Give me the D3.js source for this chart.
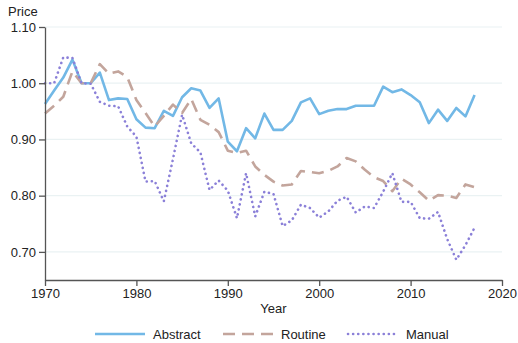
<!DOCTYPE html>
<html>
<head>
<meta charset="utf-8">
<script src="https://cdn.jsdelivr.net/npm/d3@7"></script>
<style>
  body { margin: 0; background: #fff; }
  svg text { font-family: "Liberation Sans", Arial, sans-serif; fill: #222; }
</style>
</head>
<body>
<div id="okvir"></div>
<script>
const godine = d3.range(1970, 2018)

const abstract = [0.963, 0.987, 1.010, 1.042, 1.000, 1.000, 1.019, 0.970, 0.973, 0.972,
  0.936, 0.921, 0.920, 0.951, 0.942, 0.975, 0.991, 0.987, 0.956, 0.973,
  0.896, 0.879, 0.920, 0.902, 0.946, 0.917, 0.917, 0.933, 0.966, 0.973,
  0.945, 0.951, 0.954, 0.954, 0.960, 0.960, 0.960, 0.994, 0.984, 0.989,
  0.979, 0.966, 0.929, 0.953, 0.933, 0.956, 0.941, 0.979]

const routine = [0.946, 0.960, 0.976, 1.021, 1.000, 1.000, 1.034, 1.017, 1.021, 1.011,
  0.970, 0.947, 0.923, 0.942, 0.962, 0.947, 0.972, 0.935, 0.926, 0.913,
  0.880, 0.876, 0.880, 0.852, 0.837, 0.825, 0.818, 0.820, 0.844, 0.842,
  0.840, 0.844, 0.852, 0.867, 0.861, 0.846, 0.833, 0.826, 0.808, 0.830,
  0.820, 0.806, 0.791, 0.801, 0.800, 0.796, 0.820, 0.815]

const manual = [1.000, 1.000, 1.046, 1.045, 1.000, 0.999, 0.967, 0.960, 0.959, 0.923,
  0.905, 0.825, 0.826, 0.790, 0.865, 0.944, 0.893, 0.877, 0.810, 0.827,
  0.809, 0.760, 0.840, 0.763, 0.807, 0.803, 0.746, 0.756, 0.784, 0.778,
  0.761, 0.772, 0.791, 0.798, 0.770, 0.781, 0.778, 0.807, 0.840, 0.789,
  0.789, 0.760, 0.759, 0.771, 0.723, 0.686, 0.712, 0.743]

const serije = [
  { ime: "Abstract", vrijednosti: abstract, boja: "#72b8e6", crta: null, linecap: "butt" },
  { ime: "Routine", vrijednosti: routine, boja: "#c3a59c", crta: "12,7", linecap: "butt" },
  { ime: "Manual", vrijednosti: manual, boja: "#8b80d8", crta: "0.1,5", linecap: "round" },
]

const yTikovi = [0.70, 0.80, 0.90, 1.00, 1.10]
const xTikovi = [1970, 1980, 1990, 2000, 2010, 2020]

const dimenzije = {
  sirina: 518,
  visina: 343,
  margine: { top: 27, right: 16, bottom: 63, left: 45 },
}
dimenzije.grSirina = dimenzije.sirina - dimenzije.margine.left - dimenzije.margine.right
dimenzije.grVisina = dimenzije.visina - dimenzije.margine.top - dimenzije.margine.bottom

const okvir = d3.select("#okvir")
  .append("svg")
  .attr("width", dimenzije.sirina)
  .attr("height", dimenzije.visina)

const granice = okvir.append("g")
  .attr("transform", `translate(${dimenzije.margine.left},${dimenzije.margine.top})`)

const xSkala = d3.scaleLinear()
  .domain([1970, 2020])
  .range([0, dimenzije.grSirina])

const ySkala = d3.scaleLinear()
  .domain([0.65, 1.10])
  .range([dimenzije.grVisina, 0])

// mreza
granice.append("g")
  .selectAll("line")
  .data(yTikovi)
  .enter().append("line")
    .attr("x1", 0)
    .attr("x2", dimenzije.grSirina)
    .attr("y1", d => ySkala(d))
    .attr("y2", d => ySkala(d))
    .attr("stroke", "#eaf2f3")
    .attr("stroke-width", 1.2)

// linije
const linijaGenerator = (vr) => d3.line()
  .x((d, i) => xSkala(godine[i]))
  .y(d => ySkala(d))(vr)

granice.selectAll(".serija")
  .data(serije)
  .enter().append("path")
    .attr("class", "serija")
    .attr("d", d => linijaGenerator(d.vrijednosti))
    .attr("fill", "none")
    .attr("stroke", d => d.boja)
    .attr("stroke-width", 2.6)
    .attr("stroke-linejoin", "round")
    .attr("stroke-linecap", d => d.linecap)
    .attr("stroke-dasharray", d => d.crta)

// osi
const yOs = d3.axisLeft(ySkala)
  .tickValues(yTikovi)
  .tickFormat(d3.format(".2f"))
  .tickSize(6)
  .tickSizeOuter(0)

const xOs = d3.axisBottom(xSkala)
  .tickValues(xTikovi)
  .tickFormat(d3.format("d"))
  .tickSize(6)
  .tickSizeOuter(0)

const yGrupa = granice.append("g").call(yOs)
const xGrupa = granice.append("g")
  .attr("transform", `translate(0,${dimenzije.grVisina})`)
  .call(xOs)

for (const g of [xGrupa, yGrupa]) {
  g.select(".domain").attr("stroke", "#555").attr("stroke-width", 1.3)
  g.selectAll(".tick line").attr("stroke", "#555").attr("stroke-width", 1.3)
  g.selectAll(".tick text")
    .attr("font-size", 13)
    .attr("fill", "#222")
    .attr("font-family", "Liberation Sans, Arial, sans-serif")
}
yGrupa.selectAll(".tick text").attr("x", -9)
xGrupa.selectAll(".tick text").attr("y", 9)

okvir.append("text")
  .attr("x", 8)
  .attr("y", 16)
  .attr("font-size", 13)
  .text("Price")

okvir.append("text")
  .attr("x", dimenzije.margine.left + dimenzije.grSirina / 2)
  .attr("y", 313)
  .attr("text-anchor", "middle")
  .attr("font-size", 13)
  .text("Year")

// legenda
const legendaX = [95, 223, 348]
const legenda = okvir.selectAll(".legenda")
  .data(serije)
  .enter().append("g")
    .attr("class", "legenda")
    .attr("transform", (d, i) => `translate(${legendaX[i]},334)`)

legenda.append("line")
  .attr("x1", 0)
  .attr("x2", 50)
  .attr("stroke", d => d.boja)
  .attr("stroke-width", 2.6)
  .attr("stroke-linecap", d => d.linecap)
  .attr("stroke-dasharray", d => d.crta)

legenda.append("text")
  .attr("x", 58)
  .attr("y", 4.5)
  .attr("font-size", 13)
  .text(d => d.ime)
</script>
</body>
</html>
